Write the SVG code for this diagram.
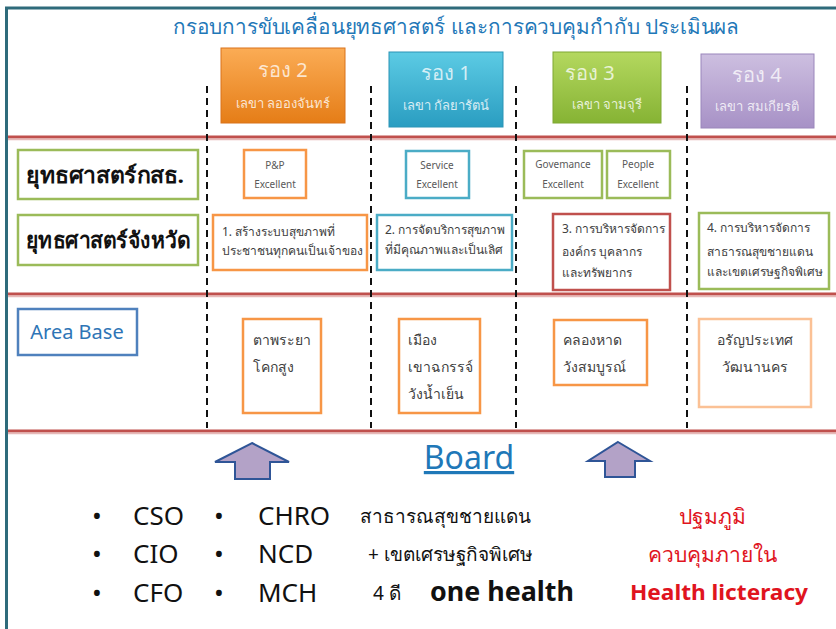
<svg xmlns="http://www.w3.org/2000/svg" width="836" height="629" viewBox="0 0 836 629">
<style>
  text { font-family: "Noto Sans", "Liberation Sans", sans-serif; }
  .red-line { stroke: #c0504d; stroke-width: 3; }
  .red-shade { stroke: #e6b9b8; stroke-width: 1.5; }
  .dash { stroke: #111; stroke-width: 2; stroke-dasharray: 7 5; }
  .hdr-big { fill: #ffffff; fill-opacity: 0.75; font-size: 20px; text-anchor: middle; }
  .hdr-small { fill: #ffffff; fill-opacity: 0.8; font-size: 13px; text-anchor: middle; }
  .box { fill: #ffffff; stroke-width: 2.5; }
  .orange { stroke: #f79646; }
  .blue { stroke: #4bacc6; }
  .green { stroke: #9bbb59; }
  .red { stroke: #c0504d; }
  .lightorange { stroke: #fbc195; }
  .small { fill: #595959; font-size: 10px; text-anchor: middle; }
  .mid { fill: #404040; font-size: 12px; }
  .area { fill: #404040; font-size: 14px; }
  .left { fill: #111; font-size: 22px; font-weight: bold; }
  .list { fill: #111; font-size: 26px; }
  .thai { fill: #111; font-size: 19px; }
  .redtxt { fill: #e0141e; font-size: 21px; text-anchor: middle; }
  .arrow { fill: #b3a2c7; stroke: #2f5597; stroke-width: 2; }
</style>
<defs>
  <linearGradient id="gOrange" x1="0" y1="0" x2="0" y2="1">
    <stop offset="0" stop-color="#fbac55"/><stop offset="1" stop-color="#e57d17"/>
  </linearGradient>
  <linearGradient id="gBlue" x1="0" y1="0" x2="0" y2="1">
    <stop offset="0" stop-color="#5ccbe4"/><stop offset="1" stop-color="#2a9dc1"/>
  </linearGradient>
  <linearGradient id="gGreen" x1="0" y1="0" x2="0" y2="1">
    <stop offset="0" stop-color="#b4d85f"/><stop offset="1" stop-color="#86b334"/>
  </linearGradient>
  <linearGradient id="gPurple" x1="0" y1="0" x2="0" y2="1">
    <stop offset="0" stop-color="#cdbfe0"/><stop offset="1" stop-color="#a791c6"/>
  </linearGradient>
</defs>

<rect x="0" y="0" width="836" height="629" fill="#ffffff"/>

<!-- outer frame -->
<g id="frame">
  <line x1="5" y1="8" x2="836" y2="8" stroke="#2e6b7b" stroke-width="3"/>
  <line x1="6.5" y1="7" x2="6.5" y2="629" stroke="#2e6b7b" stroke-width="3"/>
</g>

<!-- title -->
<text x="456" y="34" font-size="21" fill="#1f78b8" text-anchor="middle" textLength="566" lengthAdjust="spacingAndGlyphs">กรอบการขับเคลื่อนยุทธศาสตร์ และการควบคุมกำกับ ประเมินผล</text>

<!-- separators & connectors -->
<g id="connectors">
  <line class="red-line" x1="8" y1="137" x2="836" y2="137"/>
  <line class="red-shade" x1="8" y1="139.5" x2="836" y2="139.5"/>
  <line class="red-line" x1="8" y1="294" x2="836" y2="294"/>
  <line class="red-shade" x1="8" y1="296.5" x2="836" y2="296.5"/>
  <line class="red-line" x1="8" y1="431" x2="836" y2="431"/>
  <line class="red-shade" x1="8" y1="433.5" x2="836" y2="433.5"/>
  <line class="dash" x1="207" y1="86" x2="207" y2="428"/>
  <line class="dash" x1="371" y1="86" x2="371" y2="428"/>
  <line class="dash" x1="516" y1="86" x2="516" y2="428"/>
  <line class="dash" x1="687" y1="86" x2="687" y2="428"/>
</g>

<!-- header boxes -->
<g id="h-rong2">
  <rect x="221" y="48" width="124" height="75" fill="url(#gOrange)" stroke="#d9731a" stroke-width="1"/>
  <text class="hdr-big" x="283" y="77">รอง 2</text>
  <text class="hdr-small" x="283" y="108">เลขา ลอองจันทร์</text>
</g>
<g id="h-rong1">
  <rect x="389" y="52" width="114" height="75" fill="url(#gBlue)" stroke="#2a94b6" stroke-width="1"/>
  <text class="hdr-big" x="446" y="80">รอง 1</text>
  <text class="hdr-small" x="446" y="110">เลขา กัลยารัตน์</text>
</g>
<g id="h-rong3">
  <rect x="553" y="52" width="108" height="71" fill="url(#gGreen)" stroke="#7ea832" stroke-width="1"/>
  <text class="hdr-big" x="590" y="80">รอง 3</text>
  <text class="hdr-small" x="607" y="109">เลขา จามจุรี</text>
</g>
<g id="h-rong4">
  <rect x="701" y="54" width="113" height="74" fill="url(#gPurple)" stroke="#9a86bb" stroke-width="1"/>
  <text class="hdr-big" x="757" y="82">รอง 4</text>
  <text class="hdr-small" x="757" y="111">เลขา สมเกียรติ</text>
</g>

<!-- left labels -->
<g id="l-moph">
  <rect class="box green" x="18" y="150" width="180" height="49" stroke-width="3"/>
  <text class="left" x="26" y="183" textLength="158" lengthAdjust="spacingAndGlyphs">ยุทธศาสตร์กสธ.</text>
</g>
<g id="l-province">
  <rect class="box green" x="18" y="215" width="180" height="50" stroke-width="3"/>
  <text class="left" x="26" y="248" textLength="164" lengthAdjust="spacingAndGlyphs">ยุทธศาสตร์จังหวัด</text>
</g>
<g id="l-area">
  <rect class="box" x="18" y="309" width="119" height="46" stroke="#4f81bd" stroke-width="3"/>
  <text x="77" y="339" font-size="20" fill="#2e75b6" text-anchor="middle">Area Base</text>
</g>

<!-- excellence boxes -->
<g id="x-pp">
  <rect class="box orange" x="244" y="150" width="62" height="48"/>
  <text class="small" x="275" y="169">P&amp;P</text>
  <text class="small" x="275" y="188">Excellent</text>
</g>
<g id="x-service">
  <rect class="box blue" x="406" y="151" width="63" height="47"/>
  <text class="small" x="437" y="169">Service</text>
  <text class="small" x="437" y="188">Excellent</text>
</g>
<g id="x-gov">
  <rect class="box green" x="524" y="151" width="78" height="47"/>
  <text class="small" x="563" y="168">Govemance</text>
  <text class="small" x="563" y="188">Excellent</text>
</g>
<g id="x-people">
  <rect class="box green" x="607" y="151" width="63" height="47"/>
  <text class="small" x="638" y="168">People</text>
  <text class="small" x="638" y="188">Excellent</text>
</g>

<!-- provincial strategy boxes -->
<g id="s1">
  <rect class="box orange" x="213" y="215" width="154" height="55"/>
  <text class="mid" x="222" y="236">1. สร้างระบบสุขภาพที่</text>
  <text class="mid" x="222" y="255">ประชาชนทุกคนเป็นเจ้าของ</text>
</g>
<g id="s2">
  <rect class="box blue" x="377" y="215" width="135" height="55"/>
  <text class="mid" x="385" y="234">2. การจัดบริการสุขภาพ</text>
  <text class="mid" x="385" y="254">ที่มีคุณภาพและเป็นเลิศ</text>
</g>
<g id="s3">
  <rect class="box red" x="553" y="214" width="117" height="76"/>
  <text class="mid" x="562" y="233">3. การบริหารจัดการ</text>
  <text class="mid" x="562" y="256">องค์กร บุคลากร</text>
  <text class="mid" x="562" y="277">และทรัพยากร</text>
</g>
<g id="s4">
  <rect class="box green" x="699" y="213" width="130" height="76"/>
  <text class="mid" x="707" y="232">4. การบริหารจัดการ</text>
  <text class="mid" x="707" y="256">สาธารณสุขชายแดน</text>
  <text class="mid" x="707" y="276">และเขตเศรษฐกิจพิเศษ</text>
</g>

<!-- area boxes -->
<g id="a1">
  <rect class="box orange" x="243" y="319" width="78" height="94"/>
  <text class="area" x="253" y="345">ตาพระยา</text>
  <text class="area" x="253" y="372">โคกสูง</text>
</g>
<g id="a2">
  <rect class="box orange" x="399" y="319" width="81" height="94"/>
  <text class="area" x="408" y="345">เมือง</text>
  <text class="area" x="408" y="372">เขาฉกรรจ์</text>
  <text class="area" x="408" y="399">วังน้ำเย็น</text>
</g>
<g id="a3">
  <rect class="box orange" x="554" y="320" width="93" height="65"/>
  <text class="area" x="563" y="345">คลองหาด</text>
  <text class="area" x="563" y="372">วังสมบูรณ์</text>
</g>
<g id="a4">
  <rect class="box lightorange" x="699" y="319" width="112" height="88"/>
  <text class="area" x="755" y="345" text-anchor="middle">อรัญประเทศ</text>
  <text class="area" x="755" y="372" text-anchor="middle">วัฒนานคร</text>
</g>

<!-- board section -->
<g id="arrow-left">
  <polygon class="arrow" points="252,443 289,462 270,462 270,479 235,479 235,462 215,462"/>
</g>
<g id="arrow-right">
  <polygon class="arrow" points="618,442 650,461 635,461 635,477 605,477 605,461 588,461"/>
</g>
<g id="board">
  <text x="469" y="469" font-size="32" fill="#1f78b8" text-anchor="middle" text-decoration="underline">Board</text>
</g>

<g id="list">
  <text class="list" x="92" y="525">•</text>
  <text class="list" x="133" y="525">CSO</text>
  <text class="list" x="214" y="525">•</text>
  <text class="list" x="258" y="525">CHRO</text>
  <text class="thai" x="360" y="523">สาธารณสุขชายแดน</text>

  <text class="list" x="92" y="563">•</text>
  <text class="list" x="133" y="563">CIO</text>
  <text class="list" x="214" y="563">•</text>
  <text class="list" x="258" y="563">NCD</text>
  <text class="thai" x="368" y="561">+ เขตเศรษฐกิจพิเศษ</text>

  <text class="list" x="92" y="602">•</text>
  <text class="list" x="133" y="602">CFO</text>
  <text class="list" x="214" y="602">•</text>
  <text class="list" x="258" y="602">MCH</text>
  <text class="thai" x="373" y="600">4 ดี</text>
  <text x="430" y="601" font-size="26" font-weight="bold" fill="#111" textLength="144" lengthAdjust="spacingAndGlyphs">one health</text>

  <text class="redtxt" x="712" y="524">ปฐมภูมิ</text>
  <text class="redtxt" x="712" y="562">ควบคุมภายใน</text>
  <text class="redtxt" x="719" y="600" font-weight="bold" textLength="178" lengthAdjust="spacingAndGlyphs">Health licteracy</text>
</g>
</svg>
